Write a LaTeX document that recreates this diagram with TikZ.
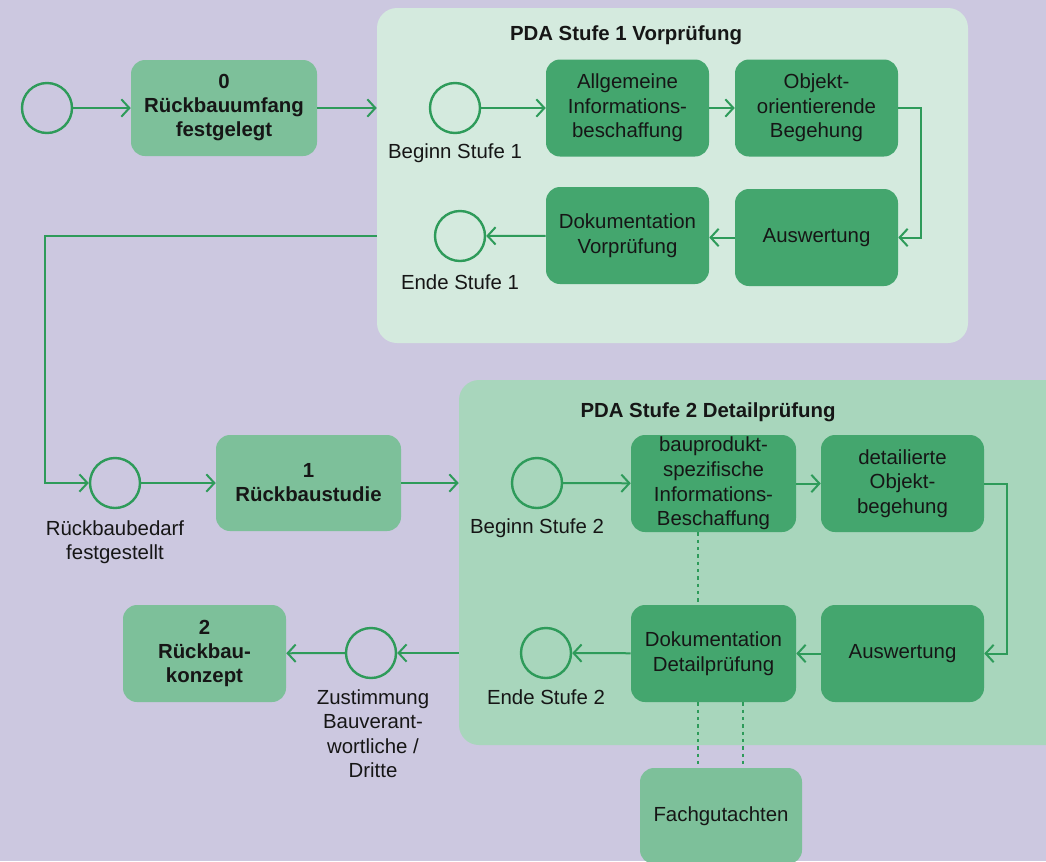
\documentclass[tikz,border=0pt]{standalone}
\usepackage{fontspec}
\setmainfont{Liberation Sans}
\usetikzlibrary{arrows.meta,calc}

\definecolor{bgcol}{RGB}{204,200,224}
\definecolor{stageone}{RGB}{212,234,222}
\definecolor{stagetwo}{RGB}{168,214,188}
\definecolor{lightbox}{RGB}{125,192,154}
\definecolor{darkbox}{RGB}{68,166,110}
\definecolor{linecol}{RGB}{46,155,90}
\definecolor{txt}{RGB}{22,22,22}

\begin{document}
\begin{tikzpicture}[x=0.75pt,y=-0.75pt,
  font=\fontsize{15.3pt}{18.4pt}\selectfont, text=txt,
  container/.style={draw=none, rounded corners=15pt, inner sep=0pt},
  mainbox/.style={fill=lightbox, rounded corners=10.5pt, align=center, inner sep=0pt, font=\fontsize{15.3pt}{18pt}\selectfont\bfseries},
  taskbox/.style={fill=darkbox, rounded corners=10.5pt, align=center, inner sep=0pt,
    minimum width=122.25pt, minimum height=72.75pt},
  event/.style={circle, draw=linecol, line width=1.8pt, minimum size=37.5pt, inner sep=0pt},
  lbl/.style={align=center, inner sep=0pt},
  title/.style={inner sep=0pt, font=\fontsize{15.3pt}{18pt}\selectfont\bfseries},
  flow/.style={draw=linecol, line width=1.5pt, -{Straight Barb[length=6pt,width=13pt,line width=1.5pt]}},
  dots/.style={draw=linecol, line width=1.8pt, dash pattern=on 2.6pt off 2.9pt}
]
% canvas
\fill[bgcol] (0,0) rectangle (1046,861);
\useasboundingbox (0,0) rectangle (1046,861);
\clip (0,0) rectangle (1046,861);

% stage containers
\node[container, fill=stageone, minimum width=443.25pt, minimum height=251.25pt] (st1) at (672.5,175.5) {};
\node[container, fill=stagetwo, minimum width=458.25pt, minimum height=273.75pt] (st2) at (764.5,562.5) {};
\node[title] (t1) at (626,35) {PDA Stufe 1 Vorprüfung};
\node[title] (t2) at (708,412) {PDA Stufe 2 Detailprüfung};

% main line, top row
\node[event] (s0) at (47,108) {};
\node[mainbox, minimum width=139.5pt, minimum height=72pt] (b0) at (224,108) {0\\Rückbauumfang\\festgelegt};

% stage 1
\node[event] (c1b) at (455,108) {};
\node[lbl] (c1bl) at (455,153) {Beginn Stufe 1};
\node[taskbox] (allg) at (627.5,108) {Allgemeine\\Informations-\\beschaffung};
\node[taskbox] (objekt) at (816.5,108) {Objekt-\\orientierende\\Begehung};
\node[taskbox] (ausw1) at (816.5,237.5) {Auswertung};
\node[taskbox] (doku1) at (627.5,235.5) {Dokumentation\\Vorprüfung};
\node[event] (c1e) at (460,236) {};
\node[lbl] (c1el) at (460,282) {Ende Stufe 1};

% main line, middle row
\node[event] (bedarf) at (115,483) {};
\node[lbl] (bedarfl) at (115,542) {Rückbaubedarf\\festgestellt};
\node[mainbox, minimum width=138.75pt, minimum height=72pt] (b1) at (308.5,483) {1\\Rückbaustudie};

% stage 2
\node[event] (c2b) at (537,483) {};
\node[lbl] (c2bl) at (537,528) {Beginn Stufe 2};
\node[taskbox, minimum width=123.75pt] (bprod) at (713.5,483.5) {bauprodukt-\\spezifische\\Informations-\\Beschaffung};
\node[taskbox] (detail) at (902.5,483.5) {detailierte\\Objekt-\\begehung};
\node[taskbox] (ausw2) at (902.5,653.5) {Auswertung};
\node[taskbox, minimum width=123.75pt] (doku2) at (713.5,653.5) {Dokumentation\\Detailprüfung};
\node[event] (c2e) at (546,653) {};
\node[lbl] (c2el) at (546,697) {Ende Stufe 2};

% main line, bottom row
\node[event] (zust) at (371,653) {};
\node[lbl, anchor=north] (zustl) at (373,689) {Zustimmung\\Bauverant-\\wortliche /\\Dritte};
\node[mainbox, minimum width=122.25pt, minimum height=72.75pt] (b2) at (204.5,653.5) {2\\Rückbau-\\konzept};
\node[fill=lightbox, rounded corners=10.5pt, inner sep=0pt, minimum width=121.5pt, minimum height=72pt] (fach) at (721,816) {Fachgutachten};

% connectors
\draw[flow] (s0) -- (b0);
\draw[flow] (b0.east) -- (b0.east -| st1.west);
\draw[flow] (c1b) -- (allg);
\draw[flow] (allg) -- (objekt);
\draw[flow] (objekt.east) -- ++(23,0) |- (ausw1.east);
\draw[flow] (ausw1.west) -- (ausw1.west -| doku1.east);
\draw[flow] (doku1) -- (c1e);

\coordinate (bend) at (45,236);
\draw[flow] (st1.west |- c1e) -- (bend) |- (bedarf);
\draw[flow] (bedarf) -- (b1);
\draw[flow] (b1.east) -- (b1.east -| st2.west);

\draw[flow] (c2b) -- (bprod);
\draw[flow] (bprod) -- (detail);
\draw[flow] (detail.east) -- ++(23,0) |- (ausw2.east);
\draw[flow] (ausw2) -- (doku2);
\draw[flow] (doku2) -- (c2e);

\draw[flow] (st2.west |- zust) -- (zust);
\draw[flow] (zust) -- (b2);

% dotted associations
\coordinate (pa) at ($(bprod.south)+(-15.5,0)$);
\coordinate (da) at ($(doku2.south)+(-15.5,0)$);
\coordinate (db) at ($(doku2.south)+(29.5,0)$);
\draw[dots] (pa) -- (pa |- doku2.north);
\draw[dots] (da) -- (da |- fach.north);
\draw[dots] (db) -- (db |- fach.north);
\end{tikzpicture}
\end{document}
